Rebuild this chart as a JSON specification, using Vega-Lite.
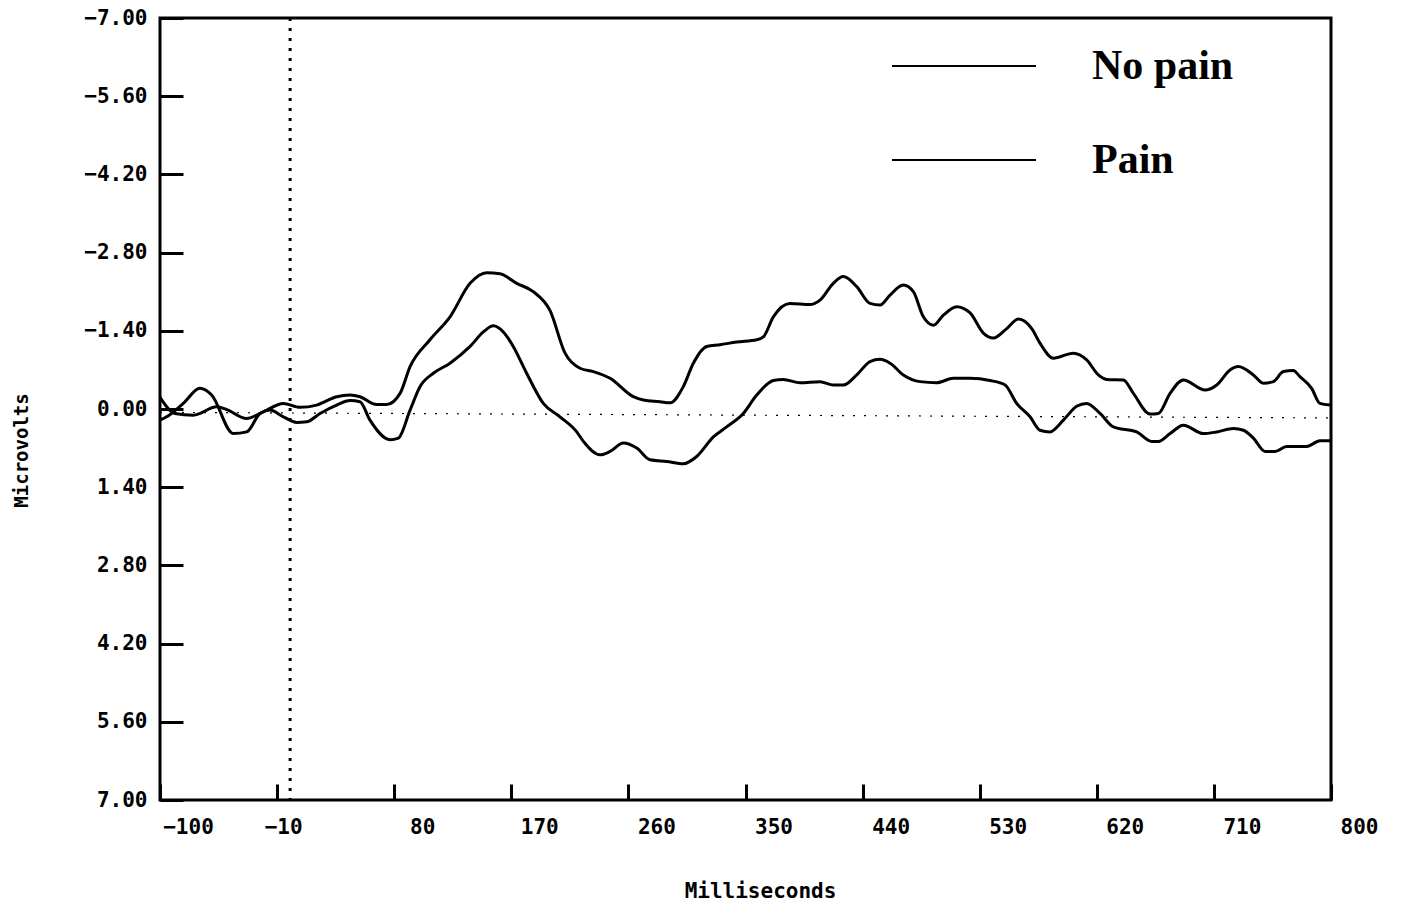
{
  "$schema": "https://vega.github.io/schema/vega-lite/v6.json",
  "width": 1171,
  "height": 782,
  "autosize": {"type": "none"},
  "padding": {"left": 160, "top": 18, "right": 70, "bottom": 106},
  "background": "white",
  "config": {
    "view": {"stroke": "black", "strokeWidth": 3},
    "axis": {
      "grid": false,
      "domain": false,
      "tickColor": "black",
      "tickWidth": 3,
      "labelColor": "black",
      "labelFont": "DejaVu Sans Mono",
      "labelFontWeight": "bold",
      "labelFontSize": 21,
      "titleColor": "black",
      "titleFont": "DejaVu Sans Mono",
      "titleFontWeight": "bold"
    }
  },
  "datasets": {
    "erp": [
      {"ms": -100, "uv": -0.21, "condition": "No pain"},
      {"ms": -88.5, "uv": 0.08, "condition": "No pain"},
      {"ms": -74.4, "uv": 0.11, "condition": "No pain"},
      {"ms": -56.4, "uv": -0.04, "condition": "No pain"},
      {"ms": -48.7, "uv": 0.01, "condition": "No pain"},
      {"ms": -33.4, "uv": 0.17, "condition": "No pain"},
      {"ms": -20.6, "uv": 0.05, "condition": "No pain"},
      {"ms": -5.2, "uv": -0.10, "condition": "No pain"},
      {"ms": 7.6, "uv": -0.03, "condition": "No pain"},
      {"ms": 20.4, "uv": -0.07, "condition": "No pain"},
      {"ms": 35.8, "uv": -0.22, "condition": "No pain"},
      {"ms": 46.0, "uv": -0.25, "condition": "No pain"},
      {"ms": 53.7, "uv": -0.22, "condition": "No pain"},
      {"ms": 66.5, "uv": -0.08, "condition": "No pain"},
      {"ms": 74.2, "uv": -0.08, "condition": "No pain"},
      {"ms": 84.5, "uv": -0.28, "condition": "No pain"},
      {"ms": 92.2, "uv": -0.76, "condition": "No pain"},
      {"ms": 107.5, "uv": -1.24, "condition": "No pain"},
      {"ms": 122.9, "uv": -1.65, "condition": "No pain"},
      {"ms": 138.3, "uv": -2.25, "condition": "No pain"},
      {"ms": 151.1, "uv": -2.44, "condition": "No pain"},
      {"ms": 161.3, "uv": -2.42, "condition": "No pain"},
      {"ms": 174.2, "uv": -2.25, "condition": "No pain"},
      {"ms": 186.9, "uv": -2.10, "condition": "No pain"},
      {"ms": 199.8, "uv": -1.76, "condition": "No pain"},
      {"ms": 211.3, "uv": -1.00, "condition": "No pain"},
      {"ms": 222.8, "uv": -0.73, "condition": "No pain"},
      {"ms": 233.1, "uv": -0.67, "condition": "No pain"},
      {"ms": 245.9, "uv": -0.55, "condition": "No pain"},
      {"ms": 263.8, "uv": -0.22, "condition": "No pain"},
      {"ms": 271.5, "uv": -0.16, "condition": "No pain"},
      {"ms": 284.3, "uv": -0.13, "condition": "No pain"},
      {"ms": 292.0, "uv": -0.11, "condition": "No pain"},
      {"ms": 302.2, "uv": -0.40, "condition": "No pain"},
      {"ms": 309.9, "uv": -0.82, "condition": "No pain"},
      {"ms": 320.2, "uv": -1.12, "condition": "No pain"},
      {"ms": 330.4, "uv": -1.15, "condition": "No pain"},
      {"ms": 343.2, "uv": -1.20, "condition": "No pain"},
      {"ms": 358.6, "uv": -1.24, "condition": "No pain"},
      {"ms": 363.7, "uv": -1.29, "condition": "No pain"},
      {"ms": 371.4, "uv": -1.65, "condition": "No pain"},
      {"ms": 384.2, "uv": -1.89, "condition": "No pain"},
      {"ms": 399.6, "uv": -1.87, "condition": "No pain"},
      {"ms": 407.3, "uv": -1.95, "condition": "No pain"},
      {"ms": 417.5, "uv": -2.25, "condition": "No pain"},
      {"ms": 425.2, "uv": -2.37, "condition": "No pain"},
      {"ms": 435.5, "uv": -2.19, "condition": "No pain"},
      {"ms": 445.7, "uv": -1.89, "condition": "No pain"},
      {"ms": 453.4, "uv": -1.86, "condition": "No pain"},
      {"ms": 461.1, "uv": -2.04, "condition": "No pain"},
      {"ms": 471.3, "uv": -2.22, "condition": "No pain"},
      {"ms": 479.0, "uv": -2.10, "condition": "No pain"},
      {"ms": 486.7, "uv": -1.65, "condition": "No pain"},
      {"ms": 494.4, "uv": -1.50, "condition": "No pain"},
      {"ms": 502.1, "uv": -1.68, "condition": "No pain"},
      {"ms": 512.3, "uv": -1.83, "condition": "No pain"},
      {"ms": 522.6, "uv": -1.72, "condition": "No pain"},
      {"ms": 532.8, "uv": -1.36, "condition": "No pain"},
      {"ms": 540.5, "uv": -1.27, "condition": "No pain"},
      {"ms": 550.8, "uv": -1.44, "condition": "No pain"},
      {"ms": 559.7, "uv": -1.61, "condition": "No pain"},
      {"ms": 570.0, "uv": -1.44, "condition": "No pain"},
      {"ms": 576.3, "uv": -1.18, "condition": "No pain"},
      {"ms": 586.6, "uv": -0.91, "condition": "No pain"},
      {"ms": 602.0, "uv": -1.00, "condition": "No pain"},
      {"ms": 612.2, "uv": -0.88, "condition": "No pain"},
      {"ms": 621.2, "uv": -0.61, "condition": "No pain"},
      {"ms": 627.6, "uv": -0.53, "condition": "No pain"},
      {"ms": 640.4, "uv": -0.52, "condition": "No pain"},
      {"ms": 648.1, "uv": -0.28, "condition": "No pain"},
      {"ms": 660.9, "uv": 0.09, "condition": "No pain"},
      {"ms": 667.3, "uv": 0.08, "condition": "No pain"},
      {"ms": 676.3, "uv": -0.28, "condition": "No pain"},
      {"ms": 686.5, "uv": -0.52, "condition": "No pain"},
      {"ms": 703.2, "uv": -0.34, "condition": "No pain"},
      {"ms": 712.2, "uv": -0.43, "condition": "No pain"},
      {"ms": 722.4, "uv": -0.70, "condition": "No pain"},
      {"ms": 728.8, "uv": -0.76, "condition": "No pain"},
      {"ms": 740.3, "uv": -0.61, "condition": "No pain"},
      {"ms": 748.0, "uv": -0.46, "condition": "No pain"},
      {"ms": 755.7, "uv": -0.49, "condition": "No pain"},
      {"ms": 763.4, "uv": -0.67, "condition": "No pain"},
      {"ms": 771.0, "uv": -0.69, "condition": "No pain"},
      {"ms": 776.1, "uv": -0.58, "condition": "No pain"},
      {"ms": 785.1, "uv": -0.37, "condition": "No pain"},
      {"ms": 791.5, "uv": -0.10, "condition": "No pain"},
      {"ms": 799.2, "uv": -0.07, "condition": "No pain"},

      {"ms": -100, "uv": 0.20, "condition": "Pain"},
      {"ms": -94.9, "uv": 0.14, "condition": "Pain"},
      {"ms": -82.1, "uv": -0.10, "condition": "Pain"},
      {"ms": -69.3, "uv": -0.37, "condition": "Pain"},
      {"ms": -60.3, "uv": -0.25, "condition": "Pain"},
      {"ms": -43.7, "uv": 0.44, "condition": "Pain"},
      {"ms": -33.4, "uv": 0.41, "condition": "Pain"},
      {"ms": -23.1, "uv": 0.08, "condition": "Pain"},
      {"ms": -15.5, "uv": 0.02, "condition": "Pain"},
      {"ms": -5.2, "uv": 0.14, "condition": "Pain"},
      {"ms": 5.1, "uv": 0.24, "condition": "Pain"},
      {"ms": 12.8, "uv": 0.23, "condition": "Pain"},
      {"ms": 23.0, "uv": 0.08, "condition": "Pain"},
      {"ms": 35.8, "uv": -0.07, "condition": "Pain"},
      {"ms": 46.0, "uv": -0.15, "condition": "Pain"},
      {"ms": 53.7, "uv": -0.13, "condition": "Pain"},
      {"ms": 61.4, "uv": 0.20, "condition": "Pain"},
      {"ms": 76.8, "uv": 0.55, "condition": "Pain"},
      {"ms": 83.2, "uv": 0.52, "condition": "Pain"},
      {"ms": 92.2, "uv": 0.02, "condition": "Pain"},
      {"ms": 99.8, "uv": -0.40, "condition": "Pain"},
      {"ms": 110.1, "uv": -0.64, "condition": "Pain"},
      {"ms": 122.9, "uv": -0.82, "condition": "Pain"},
      {"ms": 138.3, "uv": -1.12, "condition": "Pain"},
      {"ms": 148.5, "uv": -1.38, "condition": "Pain"},
      {"ms": 156.2, "uv": -1.49, "condition": "Pain"},
      {"ms": 163.9, "uv": -1.38, "condition": "Pain"},
      {"ms": 171.5, "uv": -1.12, "condition": "Pain"},
      {"ms": 181.8, "uv": -0.64, "condition": "Pain"},
      {"ms": 194.6, "uv": -0.10, "condition": "Pain"},
      {"ms": 207.4, "uv": 0.14, "condition": "Pain"},
      {"ms": 220.3, "uv": 0.41, "condition": "Pain"},
      {"ms": 225.4, "uv": 0.58, "condition": "Pain"},
      {"ms": 238.2, "uv": 0.82, "condition": "Pain"},
      {"ms": 245.9, "uv": 0.76, "condition": "Pain"},
      {"ms": 256.1, "uv": 0.61, "condition": "Pain"},
      {"ms": 266.4, "uv": 0.70, "condition": "Pain"},
      {"ms": 276.6, "uv": 0.91, "condition": "Pain"},
      {"ms": 289.4, "uv": 0.94, "condition": "Pain"},
      {"ms": 302.2, "uv": 0.98, "condition": "Pain"},
      {"ms": 312.5, "uv": 0.85, "condition": "Pain"},
      {"ms": 325.3, "uv": 0.50, "condition": "Pain"},
      {"ms": 335.5, "uv": 0.32, "condition": "Pain"},
      {"ms": 348.3, "uv": 0.08, "condition": "Pain"},
      {"ms": 358.6, "uv": -0.25, "condition": "Pain"},
      {"ms": 371.4, "uv": -0.51, "condition": "Pain"},
      {"ms": 379.1, "uv": -0.53, "condition": "Pain"},
      {"ms": 391.9, "uv": -0.47, "condition": "Pain"},
      {"ms": 407.3, "uv": -0.49, "condition": "Pain"},
      {"ms": 417.5, "uv": -0.43, "condition": "Pain"},
      {"ms": 425.2, "uv": -0.43, "condition": "Pain"},
      {"ms": 435.5, "uv": -0.61, "condition": "Pain"},
      {"ms": 445.7, "uv": -0.85, "condition": "Pain"},
      {"ms": 453.4, "uv": -0.89, "condition": "Pain"},
      {"ms": 461.1, "uv": -0.82, "condition": "Pain"},
      {"ms": 471.3, "uv": -0.61, "condition": "Pain"},
      {"ms": 484.1, "uv": -0.49, "condition": "Pain"},
      {"ms": 496.9, "uv": -0.47, "condition": "Pain"},
      {"ms": 509.7, "uv": -0.55, "condition": "Pain"},
      {"ms": 522.6, "uv": -0.55, "condition": "Pain"},
      {"ms": 537.9, "uv": -0.51, "condition": "Pain"},
      {"ms": 549.5, "uv": -0.43, "condition": "Pain"},
      {"ms": 558.4, "uv": -0.10, "condition": "Pain"},
      {"ms": 568.7, "uv": 0.14, "condition": "Pain"},
      {"ms": 576.3, "uv": 0.38, "condition": "Pain"},
      {"ms": 584.0, "uv": 0.41, "condition": "Pain"},
      {"ms": 594.3, "uv": 0.20, "condition": "Pain"},
      {"ms": 604.5, "uv": -0.05, "condition": "Pain"},
      {"ms": 612.2, "uv": -0.10, "condition": "Pain"},
      {"ms": 622.5, "uv": 0.08, "condition": "Pain"},
      {"ms": 632.7, "uv": 0.32, "condition": "Pain"},
      {"ms": 650.7, "uv": 0.41, "condition": "Pain"},
      {"ms": 662.2, "uv": 0.58, "condition": "Pain"},
      {"ms": 667.3, "uv": 0.58, "condition": "Pain"},
      {"ms": 676.3, "uv": 0.44, "condition": "Pain"},
      {"ms": 686.5, "uv": 0.29, "condition": "Pain"},
      {"ms": 701.9, "uv": 0.44, "condition": "Pain"},
      {"ms": 712.2, "uv": 0.41, "condition": "Pain"},
      {"ms": 725.0, "uv": 0.35, "condition": "Pain"},
      {"ms": 732.7, "uv": 0.38, "condition": "Pain"},
      {"ms": 740.3, "uv": 0.52, "condition": "Pain"},
      {"ms": 749.3, "uv": 0.76, "condition": "Pain"},
      {"ms": 757.0, "uv": 0.76, "condition": "Pain"},
      {"ms": 765.9, "uv": 0.67, "condition": "Pain"},
      {"ms": 781.3, "uv": 0.67, "condition": "Pain"},
      {"ms": 791.5, "uv": 0.57, "condition": "Pain"},
      {"ms": 800, "uv": 0.57, "condition": "Pain"}
    ],
    "onset": [{"t": 0}],
    "baseline": [{"t0": -100, "t1": 800, "v0": 0.06, "v1": 0.16}]
  },
  "layer": [
    {
      "data": {"name": "erp"},
      "mark": {"type": "line", "strokeWidth": 3, "interpolate": "monotone"},
      "encoding": {
        "x": {
          "field": "ms", "type": "quantitative",
          "scale": {"domain": [-100, 800], "nice": false, "zero": false},
          "axis": {
            "title": "Milliseconds",
            "titleFontSize": 21,
            "values": [-100, -10, 80, 170, 260, 350, 440, 530, 620, 710, 800],
            "format": "d",
            "tickSize": -16,
            "labelPadding": 32,
            "labelOffset": {"condition": {"test": "datum.value == -10", "value": 6}, "value": 28},
            "labelFlush": false,
            "titleX": 600,
            "titleY": 91,
            "titleBaseline": "middle"
          }
        },
        "y": {
          "field": "uv", "type": "quantitative",
          "scale": {"domain": [-7, 7], "reverse": true, "nice": false, "zero": false},
          "axis": {
            "title": "Microvolts",
            "titleFontSize": 19,
            "values": [-7, -5.6, -4.2, -2.8, -1.4, 0, 1.4, 2.8, 4.2, 5.6, 7],
            "format": ".2f",
            "tickSize": -23,
            "labelPadding": 36,
            "labelFlush": false,
            "titleAngle": 270,
            "titleX": -139,
            "titleY": 432,
            "titleAlign": "center",
            "titleBaseline": "middle"
          }
        },
        "color": {
          "field": "condition", "type": "nominal",
          "scale": {"domain": ["No pain", "Pain"], "range": ["black", "black"]},
          "legend": {
            "title": null,
            "orient": "none",
            "legendX": 731,
            "legendY": -25,
            "padding": 0,
            "symbolType": "stroke",
            "symbolSize": 20736,
            "symbolStrokeWidth": 2,
            "labelFont": "Liberation Serif",
            "labelFontSize": 42,
            "labelFontWeight": "bold",
            "labelColor": "black",
            "labelOffset": 55,
            "labelLimit": 400,
            "rowPadding": -42
          }
        }
      }
    },
    {
      "data": {"name": "onset"},
      "mark": {"type": "rule", "stroke": "black", "strokeWidth": 3, "strokeDash": [3, 7]},
      "encoding": {
        "x": {"field": "t", "type": "quantitative", "title": "Milliseconds"}
      }
    },
    {
      "data": {"name": "baseline"},
      "mark": {"type": "rule", "stroke": "black", "strokeWidth": 1.2, "strokeDash": [2, 9]},
      "encoding": {
        "x": {"field": "t0", "type": "quantitative", "title": "Milliseconds"},
        "x2": {"field": "t1"},
        "y": {"field": "v0", "type": "quantitative", "title": "Microvolts"},
        "y2": {"field": "v1"}
      }
    }
  ]
}
